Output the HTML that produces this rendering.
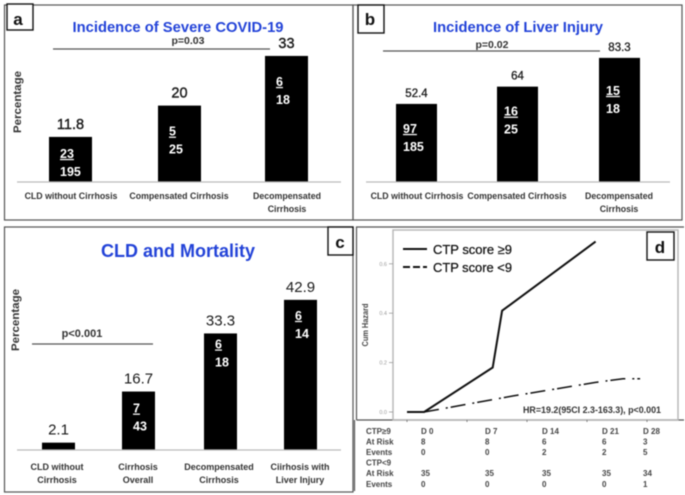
<!DOCTYPE html>
<html lang="en">
<head>
<meta charset="utf-8">
<title>CLD outcomes panels</title>
<style>
html,body{margin:0;padding:0;background:#fff;width:685px;height:495px;overflow:hidden}
svg{display:block;filter:blur(.45px);font-family:"Liberation Sans",sans-serif}
.frame{fill:none;stroke:#555;stroke-width:1.2}
.tag{fill:#fff;stroke:#111;stroke-width:1.4}
.tagtxt{font-size:17px;font-weight:700;fill:#111;text-anchor:middle}
.title{font-weight:700;fill:#2343d8;text-anchor:middle}
.ptxt{font-weight:700;fill:#333;text-anchor:middle}
.pline{stroke:#555;stroke-width:1.3}
.axis{stroke:#bbb;stroke-width:1.2}
.ylab{font-size:11px;font-weight:700;fill:#333;text-anchor:middle}
</style>
</head>
<body>
<svg id="chart" xmlns="http://www.w3.org/2000/svg" width="685" height="495" viewBox="0 0 685 495">
  <rect class="frame" x="4.5" y="5" width="348.5" height="215"/>
  <rect class="frame" x="353" y="5" width="329" height="215"/>
  <rect class="frame" x="4.5" y="227" width="348.5" height="265"/>
  <path class="frame" d="M356.5 420V227H684M356.5 420H684"/>
  <path class="frame" d="M354.5 420V491"/>

  <rect class="tag" x="7" y="4" width="26" height="26"/>
  <text class="tagtxt" x="18" y="25">a</text>
  <rect class="tag" x="358" y="5" width="26" height="28"/>
  <text class="tagtxt" x="370" y="25">b</text>
  <rect class="tag" x="328" y="227" width="25" height="28"/>
  <text class="tagtxt" x="340" y="248">c</text>

  <text class="title" x="178" y="32" font-size="15" textLength="211" lengthAdjust="spacingAndGlyphs">Incidence of Severe COVID-19</text>
  <text class="title" x="518" y="32" font-size="15" textLength="170" lengthAdjust="spacingAndGlyphs">Incidence of Liver Injury</text>
  <text class="title" x="178" y="257" font-size="18" textLength="154" lengthAdjust="spacingAndGlyphs">CLD and Mortality</text>

  <line class="pline" x1="53" y1="49" x2="270" y2="49"/>
  <text class="ptxt" font-size="10.5" x="188" y="44">p=0.03</text>
  <line class="pline" x1="383" y1="51" x2="600" y2="51"/>
  <text class="ptxt" font-size="10.5" x="492" y="48">p=0.02</text>
  <line class="pline" x1="32" y1="344" x2="153" y2="344"/>
  <text class="ptxt" font-size="11" x="82" y="337">p&lt;0.001</text>

  <text class="ylab" transform="translate(21 102) rotate(-90)" textLength="62" lengthAdjust="spacingAndGlyphs">Percentage</text>
  <text class="ylab" transform="translate(19 320) rotate(-90)" textLength="62" lengthAdjust="spacingAndGlyphs">Percentage</text>

  <g id="panelA"></g>
  <g id="panelB"></g>
  <g id="panelC"></g>

  <rect x="393" y="230" width="285" height="190" fill="none" stroke="#b5b5b5" stroke-width="1.4"/>
  <g id="panelD"></g>
  <line x1="403" y1="249" x2="427" y2="249" stroke="#111" stroke-width="2"/>
  <text x="433" y="254" font-size="13" fill="#111" stroke="#111" stroke-width=".25" textLength="79" lengthAdjust="spacingAndGlyphs">CTP score ≥9</text>
  <line x1="403" y1="267" x2="427" y2="267" stroke="#111" stroke-width="2" stroke-dasharray="7 3"/>
  <text x="433" y="272" font-size="13" fill="#111" stroke="#111" stroke-width=".25" textLength="79" lengthAdjust="spacingAndGlyphs">CTP score &lt;9</text>
  <rect class="tag" x="647" y="232" width="27" height="28"/>
  <text class="tagtxt" x="660" y="253">d</text>
  <text x="523" y="413" font-size="9" font-weight="700" fill="#333" textLength="138" lengthAdjust="spacingAndGlyphs">HR=19.2(95CI 2.3-163.3), p&lt;0.001</text>
  <text transform="translate(368 325) rotate(-90)" font-size="8" font-weight="700" fill="#444" text-anchor="middle" textLength="43" lengthAdjust="spacingAndGlyphs">Cum Hazard</text>
  <g id="riskTable"></g>
</svg>
<script>
/* Panel a */
const aCategories = [["CLD without Cirrhosis"], ["Compensated Cirrhosis"], ["Decompensated", "Cirrhosis"]];
const aValues = [11.8, 20, 33];
const aNumerators = ["23", "5", "6"];
const aDenominators = ["195", "25", "18"];
/* Panel b */
const bCategories = [["CLD without Cirrhosis"], ["Compensated Cirrhosis"], ["Decompensated", "Cirrhosis"]];
const bValues = [52.4, 64, 83.3];
const bNumerators = ["97", "16", "15"];
const bDenominators = ["185", "25", "18"];
/* Panel c */
const cCategories = [["CLD without", "Cirrhosis"], ["Cirrhosis", "Overall"], ["Decompensated", "Cirrhosis"], ["Ciirhosis with", "Liver Injury"]];
const cValues = [2.1, 16.7, 33.3, 42.9];
const cNumerators = ["", "7", "6", "6"];
const cDenominators = ["", "43", "18", "14"];
/* Panel d */
const hazardTicks = [0, 0.2, 0.4, 0.6];
const dayTicks = [0, 7, 14, 21, 28];
const highDays = [0, 2, 10, 11.1, 22];
const highHazard = [0, 0, 0.18, 0.41, 0.69];
const lowDays = [2, 12.4, 22, 25.2, 27.2];
const lowHazard = [0, 0.065, 0.12, 0.135, 0.135];
/* Risk table */
const tableRowLabels = ["CTP≥9", "At Risk", "Events", "CTP<9", "At Risk", "Events"];
const tableRows = [
  ["D 0", "D 7", "D 14", "D 21", "D 28"],
  ["8", "8", "6", "6", "3"],
  ["0", "0", "2", "2", "5"],
  ["", "", "", "", ""],
  ["35", "35", "35", "35", "34"],
  ["0", "0", "0", "0", "1"]
];

const NS = "http://www.w3.org/2000/svg";
function mk(parent, tag, attrs, text) {
  const el = document.createElementNS(NS, tag);
  for (const k in attrs) el.setAttribute(k, attrs[k]);
  if (text !== undefined) el.textContent = text;
  parent.appendChild(el);
  return el;
}

function drawBars(o) {
  const g = document.getElementById(o.id);
  const y = v => o.base - v * o.scale;
  o.values.forEach((v, i) => {
    const top = y(v);
    const left = o.lefts[i];
    const cx = left + o.width / 2;

    const bar = mk(g, "rect", {x: left, y: top, width: o.width, height: o.base - top, fill: "#000"});
    
    

    const val = mk(g, "text", {x: cx, y: top - o.valueGap, "font-size": o.valueSize, fill: "#1a1a1a", stroke: "#1a1a1a", "stroke-width": o.valueStroke, "text-anchor": "middle"}, String(v));
    
    

    if (o.nums[i]) {
      const ny = top + o.insets[i];
      const num = mk(g, "text", {x: left + o.inX, y: ny, "font-size": 12.5, "font-weight": 700, fill: "#fff", "text-decoration": "underline"}, o.nums[i]);
      
      

      const den = mk(g, "text", {x: left + o.inX, y: ny + 18, "font-size": 12.5, "font-weight": 700, fill: "#fff"}, o.dens[i]);
      
      
    }

    o.cats[i].forEach((line, j) => {
      const lab = mk(g, "text", {x: o.labelX[i], y: o.labelY + j * o.labelStep, "font-size": o.labelSize, "font-weight": 700, fill: "#333", "text-anchor": "middle"}, line);
      
      
    });
  });
  const ax = mk(g, "line", {x1: o.axis[0], x2: o.axis[1], y1: o.base, y2: o.base, class: "axis"});
  
  
}

drawBars({id: "panelA", key: "panel-a", values: aValues, nums: aNumerators, dens: aDenominators, cats: aCategories,
  base: 182, scale: 3.82, lefts: [49, 158, 265], width: 43, axis: [17, 341], valueGap: 8, valueSize: 14.5, valueStroke: 0.4,
  insets: [21, 30, 30], inX: 11, labelX: [71, 179, 287], labelY: 199, labelStep: 13, labelSize: 8.8});
drawBars({id: "panelB", key: "panel-b", values: bValues, nums: bNumerators, dens: bDenominators, cats: bCategories,
  base: 182, scale: 1.49, lefts: [396, 497, 599], width: 41, axis: [366, 670], valueGap: 7, valueSize: 11.5, valueStroke: 0.3,
  insets: [29, 29, 37], inX: 7, labelX: [417, 517, 619], labelY: 199, labelStep: 13, labelSize: 8.8});
drawBars({id: "panelC", key: "panel-c", values: cValues, nums: cNumerators, dens: cDenominators, cats: cCategories,
  base: 450, scale: 3.5, lefts: [42, 122, 204, 284], width: 33, axis: [17, 341], valueGap: 8, valueSize: 15, valueStroke: 0,
  insets: [0, 21, 15, 20], inX: 11, labelX: [57, 138, 219, 300], labelY: 470, labelStep: 13, labelSize: 9});

/* Panel d */
(function () {
  const g = document.getElementById("panelD");
  const x = d => 407 + d * 60 / 7;
  const y = v => 412 - v * 247;
  hazardTicks.forEach(t => {
    const tick = mk(g, "line", {x1: 389, x2: 393, y1: y(t), y2: y(t), stroke: "#999", "stroke-width": 0.8});
    
    

    const lab = mk(g, "text", {x: 387, y: y(t) + 2, "font-size": 5.5, fill: "#999", "text-anchor": "end"}, t.toFixed(1));
    
    
  });
  dayTicks.forEach(d => {
    const tick = mk(g, "line", {x1: x(d), x2: x(d), y1: 420, y2: 422, stroke: "#666", "stroke-width": 0.8});
    
    
  });
  const pts = (ds, vs) => ds.map((d, i) => x(d).toFixed(1) + "," + y(vs[i]).toFixed(1)).join(" ");
  const high = mk(g, "polyline", {points: pts(highDays, highHazard), fill: "none", stroke: "#111", "stroke-width": 2});
  
  

  const low = mk(g, "polyline", {points: pts(lowDays, lowHazard), fill: "none", stroke: "#111", "stroke-width": 1.5, "stroke-dasharray": "15 7 2 3"});
  
  
})();

/* Risk table */
(function () {
  const g = document.getElementById("riskTable");
  const colX = [421, 485, 542, 602, 643];
  tableRowLabels.forEach((label, r) => {
    const yy = 434 + r * 10.55;
    const head = mk(g, "text", {x: 366, y: yy, "font-size": 8, "font-weight": 700, fill: "#444"}, label);
    
    
    tableRows[r].forEach((cell, c) => {
      if (!cell) return;
      const t = mk(g, "text", {x: colX[c], y: yy, "font-size": 8, "font-weight": 700, fill: "#444"}, cell);
      
      
    });
  });
})();
</script>
</body>
</html>
